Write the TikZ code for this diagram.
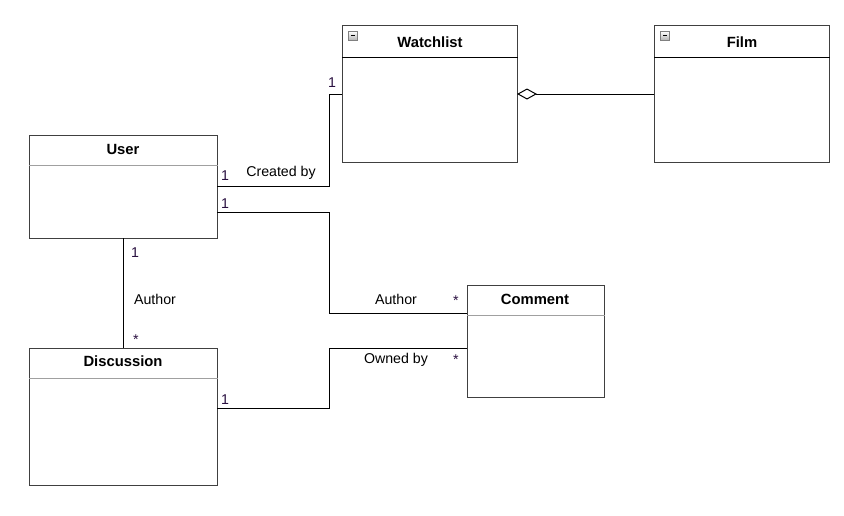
\documentclass[tikz,border=0pt]{standalone}
\usepackage{fontspec}
\setmainfont{Liberation Sans}
\usetikzlibrary{calc,arrows.meta}
\definecolor{boxline}{HTML}{404040}
\definecolor{sepgray}{HTML}{A0A0A0}
\definecolor{mult}{HTML}{2A1040}
\begin{document}
\begin{tikzpicture}[x=1pt,y=-1pt,
  classbox/.style={draw=boxline,line width=1.3pt,fill=white,anchor=north west,inner sep=0pt},
  title/.style={font=\fontsize{14.8}{17}\selectfont\bfseries,inner sep=0pt,anchor=center},
  lbl/.style={font=\fontsize{14.2}{17}\selectfont,inner sep=0pt,anchor=center},
  mlt/.style={font=\fontsize{14.2}{17}\selectfont,inner sep=0pt,anchor=center,text=mult},
  conn/.style={draw=black,line width=1pt},
  sepgrey/.style={draw=sepgray,line width=0.9pt},
  sepblack/.style={draw=black,line width=1pt},
  icon/.style={draw=gray,line width=0.6pt,top color=white,bottom color=gray!60,minimum width=9pt,minimum height=9pt,inner sep=0pt,anchor=north west}
]
\useasboundingbox[fill=white] (0,0) rectangle (844,515);

% classes
\node[classbox,minimum width=188pt,minimum height=103pt] (user) at (29,135) {};
\node[classbox,minimum width=175pt,minimum height=137pt] (watch) at (342,25) {};
\node[classbox,minimum width=175pt,minimum height=137pt] (film) at (654,25) {};
\node[classbox,minimum width=188pt,minimum height=137pt] (disc) at (29,348) {};
\node[classbox,minimum width=137pt,minimum height=112pt] (comm) at (467,285) {};

% separators
\draw[sepgrey] ([yshift=-30pt]user.north west) -- ([yshift=-30pt]user.north east);
\draw[sepblack] ([yshift=-32pt]watch.north west) -- ([yshift=-32pt]watch.north east);
\draw[sepblack] ([yshift=-32pt]film.north west) -- ([yshift=-32pt]film.north east);
\draw[sepgrey] ([yshift=-30pt]disc.north west) -- ([yshift=-30pt]disc.north east);
\draw[sepgrey] ([yshift=-30pt]comm.north west) -- ([yshift=-30pt]comm.north east);

% titles
\node[title] (tuser) at (123,149) {User};
\node[title] (twatch) at (430,42) {Watchlist};
\node[title] (tfilm) at (742,42) {Film};
\node[title] (tdisc) at (123,361) {Discussion};
\node[title] (tcomm) at (535,299) {Comment};

% collapse icons
\node[icon] (iw) at (348,31) {};
\draw[line width=1pt] ([xshift=2pt]iw.center) -- ([xshift=-2pt]iw.center);
\node[icon] (if) at (660,31) {};
\draw[line width=1pt] ([xshift=2pt]if.center) -- ([xshift=-2pt]if.center);

% helper coordinates
\coordinate (xa) at (329,0);
\coordinate (u1) at (217,186);
\coordinate (u2) at (217,212);
\coordinate (w1) at (342,94);
\coordinate (c1) at (467,313);
\coordinate (c2) at (467,348);
\coordinate (d1) at (217,408);
\coordinate (ub) at (123,238);
\coordinate (dt) at (123,348);
\coordinate (wr) at (517,94);
\coordinate (fl) at (654,94);

% connectors
\draw[conn] (u1) -- (u1 -| xa) -- (w1 -| xa) -- (w1);
\draw[conn] (u2) -- (u2 -| xa) -- (c1 -| xa) -- (c1);
\draw[conn] (d1) -- (d1 -| xa) -- (c2 -| xa) -- (c2);
\draw[conn] (ub) -- (dt);
\draw[conn,{Diamond[open,length=20pt,width=11pt,line width=1pt]}-] (wr) -- (fl);

% labels
\node[mlt] (m1) at (225,176) {1};
\node[lbl] (l1) at (281,173) {Created by};
\node[mlt] (m2) at (332,83) {1};
\node[mlt] (m3) at (225,204) {1};
\node[lbl] (l2) at (396,299) {Author};
\node[mlt] (m4) at (456,301) {*};
\node[mlt] (m5) at (135,253) {1};
\node[lbl] (l3) at (155,299) {Author};
\node[mlt] (m6) at (136,340) {*};
\node[mlt] (m7) at (225,400) {1};
\node[lbl] (l4) at (396,360) {Owned by};
\node[mlt] (m8) at (456,360) {*};
\end{tikzpicture}
\end{document}
